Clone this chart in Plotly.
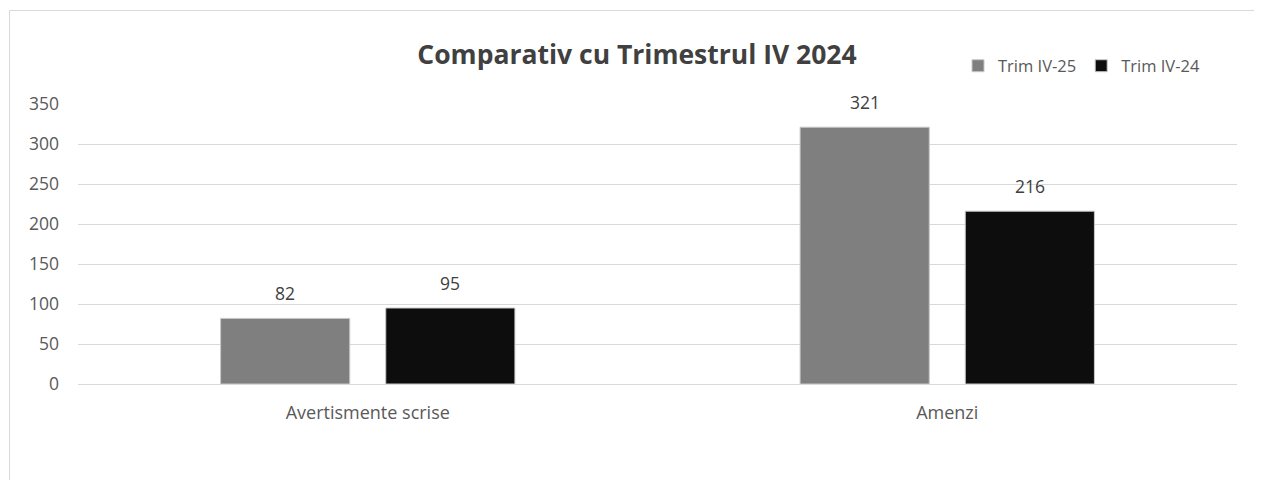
import plotly.graph_objects as go

categories = ["Avertismente scrise", "Amenzi"]
series_names = ["Trim IV-25", "Trim IV-24"]
values_25 = [82, 321]
values_24 = [95, 216]
series_colors = ["#7f7f7f", "#0d0d0d"]
y_ticks = [0, 50, 100, 150, 200, 250, 300, 350]

FONT = "Open Sans"
OFF = 8  # page body margin
W, H = 1262 - 2 * OFF, 488 - 2 * OFF
ML, MT = 78 - OFF, 104 - OFF
MR = W - (1237 - OFF)
MB = H - (384 - OFF)
PW, PH = W - ML - MR, H - MT - MB

fig = go.Figure()
for name, vals, col in zip(series_names, [values_25, values_24], series_colors):
    fig.add_trace(go.Bar(
        x=categories, y=vals, name=name,
        marker=dict(color=col, line=dict(color="#c8c8c8", width=1)),
        hoverinfo="x+y+name",
    ))

# data labels
annotations = []
slot = PW / len(categories) * (1 - 0.43) / 2
for i, vals in enumerate([values_25, values_24]):
    shift = (i - 0.5) * slot
    for c, v in zip(categories, vals):
        annotations.append(dict(
            x=c, y=v, text=str(v), showarrow=False, xref="x", yref="y",
            xshift=shift, yshift=11, yanchor="bottom",
            font=dict(family=FONT, size=17.5, color="#404040"),
        ))

fig.update_layout(
    width=W, height=H,
    margin=dict(l=ML, r=MR, t=MT, b=MB),
    paper_bgcolor="white", plot_bgcolor="white",
    barmode="group", bargap=0.43, bargroupgap=0.218,
    font=dict(family=FONT, size=17, color="#595959"),
    title=dict(
        text="<b>Comparativ cu Trimestrul IV 2024</b>",
        x=(637 - OFF) / W, xanchor="center", y=1 - (55 - OFF) / H, yanchor="middle",
        font=dict(family=FONT, size=26.5, color="#404040"),
    ),
    legend=dict(
        orientation="h", x=(950 - ML) / PW, xanchor="left",
        y=1 + (MT - (66 - OFF)) / PH, yanchor="middle",
        font=dict(family=FONT, size=16.5, color="#595959"),
        bgcolor="rgba(0,0,0,0)", itemwidth=30,
    ),
    annotations=annotations,
    shapes=[
        dict(type="line", xref="paper", yref="paper",
             x0=(9.5 - OFF - ML) / PW, x1=(W + 200 - ML) / PW,
             y0=1 + (MT - (10.5 - OFF)) / PH, y1=1 + (MT - (10.5 - OFF)) / PH,
             line=dict(color="#d9d9d9", width=1), layer="below"),
        dict(type="line", xref="paper", yref="paper",
             x0=(9.5 - OFF - ML) / PW, x1=(9.5 - OFF - ML) / PW,
             y0=-(MB + 200) / PH, y1=1 + (MT - (10.5 - OFF)) / PH,
             line=dict(color="#d9d9d9", width=1), layer="below"),
    ],
    showlegend=True,
)
fig.update_xaxes(
    showline=True, linecolor="#d9d9d9", linewidth=1,
    ticks="", ticklabelstandoff=12,
    tickfont=dict(family=FONT, size=18, color="#595959"),
)
fig.update_yaxes(
    range=[0, 350], tickvals=y_ticks, showgrid=True, gridcolor="#d9d9d9",
    gridwidth=1, zeroline=False, showline=False, ticks="",
    ticklabelstandoff=18,
    tickfont=dict(family=FONT, size=17.5, color="#595959"),
)

fig.write_html("out.html", config={"displayModeBar": False})
